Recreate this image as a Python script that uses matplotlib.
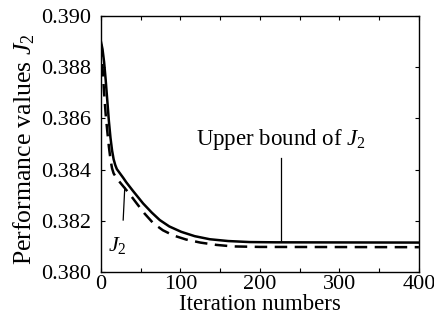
import matplotlib
matplotlib.use("Agg")
import matplotlib.pyplot as plt
from matplotlib.ticker import MultipleLocator, FormatStrFormatter

# Upper bound of J2 (solid)
iter_upper = [0, 2, 4, 6, 8, 10, 12, 14, 16, 18, 20, 24, 28, 32, 40, 53, 64, 74, 86,
              101, 118, 137, 160, 187, 220, 400]
j2_upper = [0.38900, 0.38870, 0.38820, 0.38750, 0.38670, 0.38590, 0.38525, 0.38475,
            0.38440, 0.38418, 0.38402, 0.38385, 0.38368, 0.38350, 0.38318, 0.38268,
            0.38232, 0.38203, 0.38178, 0.38157, 0.38140, 0.38128, 0.38121, 0.38117,
            0.38116, 0.38115]

# J2 (dashed)
iter_j2 = [0, 2, 4, 6, 8, 10, 12, 14, 16, 20, 24, 28, 36, 45, 55, 66, 78, 91, 107,
           125, 145, 166, 200, 400]
j2_vals = [0.38890, 0.38800, 0.38700, 0.38615, 0.38550, 0.38490, 0.38440, 0.38405,
           0.38385, 0.38365, 0.38350, 0.38335, 0.38305, 0.38268, 0.38228, 0.38190,
           0.38163, 0.38143, 0.38127, 0.38115, 0.38106, 0.38100, 0.38098, 0.38097]

xticks = [0, 100, 200, 300, 400]
yticks = [0.380, 0.382, 0.384, 0.386, 0.388, 0.390]

plt.rcParams['font.family'] = ['Liberation Serif', 'DejaVu Serif']
plt.rcParams['mathtext.fontset'] = 'custom'
plt.rcParams['mathtext.it'] = 'Liberation Serif:italic'
plt.rcParams['mathtext.rm'] = 'Liberation Serif'

fig = plt.figure(figsize=(4.35, 3.25), dpi=100)
ax = fig.add_axes([0.232, 0.163, 0.731, 0.788])

ax.plot(iter_upper, j2_upper, color='black', lw=1.8, solid_joinstyle='round')
ax.plot(iter_j2, j2_vals, color='black', lw=1.8, dashes=(5, 3))

ax.set_xlim(0, 400)
ax.set_ylim(0.380, 0.390)
ax.set_xticks(xticks)
ax.set_yticks(yticks)
ax.yaxis.set_major_formatter(FormatStrFormatter('%.3f'))
ax.xaxis.set_minor_locator(MultipleLocator(50))
ax.tick_params(which='both', direction='in', top=True, right=True, length=3, width=0.8,
               labelsize=16)
ax.tick_params(axis='x', pad=2)
ax.tick_params(axis='y', pad=7)
for s in ax.spines.values():
    s.set_linewidth(1.0)

ax.set_xlabel('Iteration numbers', fontsize=16.5, labelpad=0)
ax.set_ylabel('Performance values $J_2$', fontsize=18.5, labelpad=3)
ax.yaxis.label.set_y(0.48)

# Annotations
ax.text(226, 0.38516, 'Upper bound of $J_2$', fontsize=16.5, ha='center', va='center')
ax.plot([226, 226], [0.38445, 0.38123], color='black', lw=0.9)

ax.text(21, 0.38105, '$J_2$', fontsize=16, ha='center', va='center')
ax.plot([28, 30], [0.38203, 0.38330], color='black', lw=0.9)

fig.savefig('out.png', dpi=100)
